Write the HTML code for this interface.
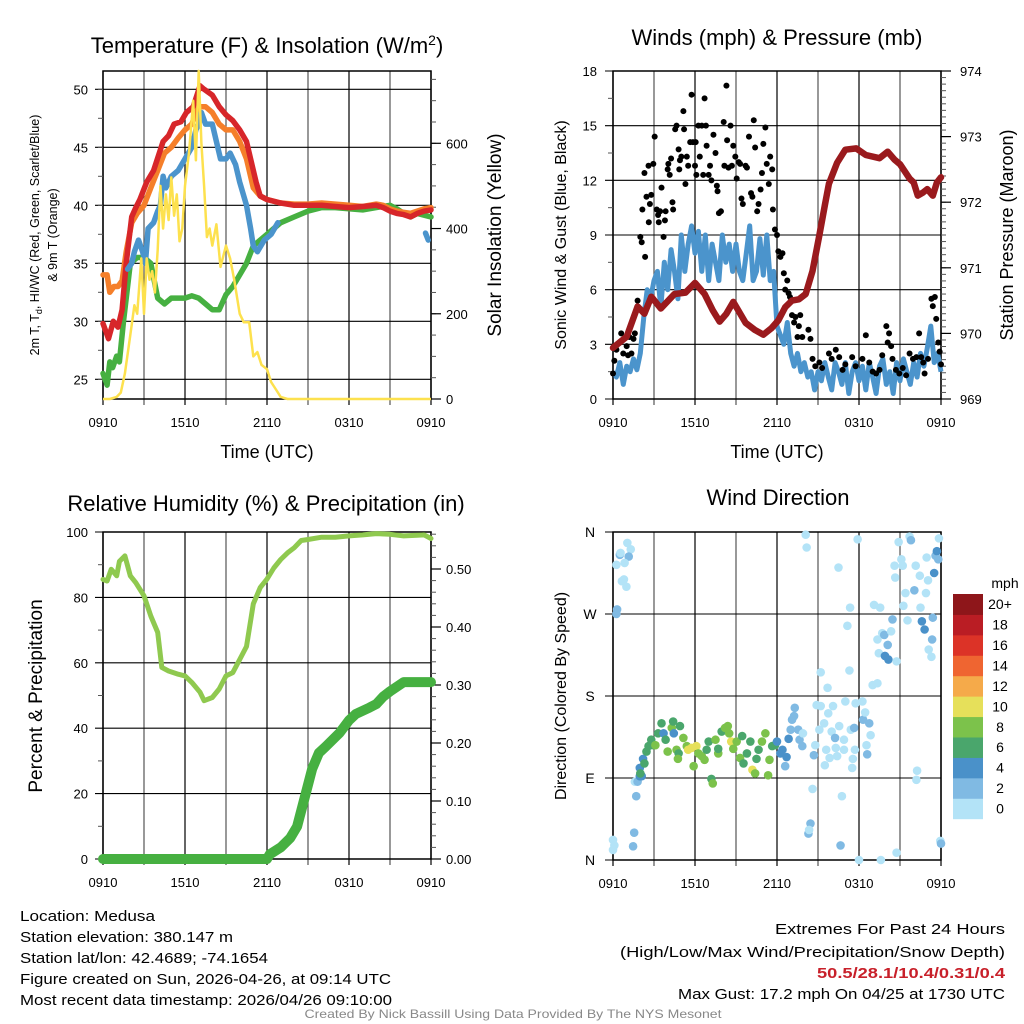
<!DOCTYPE html>
<html><head><meta charset="utf-8"><style>
html,body{margin:0;padding:0;background:#fff;}
svg{display:block;font-family:"Liberation Sans",sans-serif;}
</style></head><body>
<svg id="fig" width="1024" height="1024" viewBox="0 0 1024 1024" xmlns="http://www.w3.org/2000/svg"></svg>
<script>
// ---------- DATA ----------
const xTickLabels = ["0910","1510","2110","0310","0910"];
const tempTicks = [25,30,35,40,45,50];
const solarTicks = [0,200,400,600];
const windTicks = [0,3,6,9,12,15,18];
const presTicks = [969,970,971,972,973,974];
const rhTicks = [0,20,40,60,80,100];
const precipTicks = ["0.00","0.10","0.20","0.30","0.40","0.50"];
const dirTickLabels = ["N","E","S","W","N"];
const speedBins = ["0","2","4","6","8","10","12","14","16","18","20+"];
const speedColors = ["#b3e3f7","#80bae3","#4a91c9","#4aa66c","#7cc24b","#e6e05a","#f5aa4a","#ef6531","#dc3327","#ba1d24","#8e161a"];

const redHours = [0,0.4,0.75,1.1,1.4,1.7,2.1,2.4,2.7,3.2,3.7,4.4,4.8,5.2,5.7,6.1,6.6,7.1,7.4,8,8.5,9,9.5,10,10.5,10.8,11.2,11.5,12,13,14,15,16,17,18,19,20,20.5,21,21.5,22,22.5,23,23.5,24];
const redVals  = [29.8,28.5,30,29.5,31,35,39,39.8,40.5,42,43,45.5,46,47,47.2,48,48.5,50.3,50,49.5,48.5,47.8,47.3,46.5,45.5,44,42,40.8,40.5,40.2,40,40,40,39.9,39.8,39.9,40,39.8,39.5,39.3,39.2,39.0,39.3,39.5,39.6];
const orangeHours = [0,0.3,0.5,0.8,1.1,1.4,1.7,2.1,2.5,3,3.5,4,4.5,5,5.5,6,6.5,7,7.5,8,8.5,9,9.5,10,10.5,11,11.5,12,13,14,15,16,17,18,19,20,20.5,21,21.5,22,22.5,23,23.5,24];
const orangeVals  = [34,34,32.5,33,33,33.5,36,38.5,39.3,40,41.5,43,44.5,45,45.8,46.5,47,48.5,48.5,48,47,46.5,46.5,45.5,44,41.5,40.8,40.5,40.2,40.1,40.1,40.2,40.1,40,39.9,40.1,40,39.7,39.5,39.4,39.3,39.5,39.7,39.8];
const blueHours = [1.8,2.1,2.3,2.6,2.9,3.1,3.3,3.7,4,4.2,4.4,4.6,5,5.5,6,6.5,6.8,7,7.2,7.5,8,8.3,8.6,9,9.3,9.7,10,10.5,10.8,11,11.3,11.8,12.3,12.8];
const blueVals  = [34.5,35,36,37,36,35,38,38.5,39.5,40,42.5,41.5,42.5,43,44,45,46.5,47,48,47,47,45.5,44,44,44.5,43.5,42,40,38,36.5,36,37,37.5,38.5];
const blueLateHours = [23.6,23.7,23.8];
const blueLateVals = [37.6,37.3,37];
const greenHours = [0,0.3,0.5,0.7,1,1.2,1.5,1.8,2,2.5,3,3.5,4,4.5,5,5.5,6,6.5,7,7.5,8,8.5,9,9.5,10,10.5,11,11.5,12,12.5,13,14,15,16,17,18,19,20,21,21.5,22,22.5,23,24];
const greenVals  = [25.5,24.5,26.5,26,27,26.5,30,33,35,35.5,35.5,35,32,31.5,32,32,32,32.2,32,31.5,31,31,32.3,33,34,35,36.5,37,37.5,38,38.5,39,39.5,39.8,39.8,39.7,39.6,39.8,40,39.7,39.3,39,39.3,39];
const solarHours = [0,0.5,1,1.3,1.6,2,2.3,2.5,2.8,3,3.2,3.4,3.6,3.8,4,4.2,4.4,4.6,4.8,5,5.2,5.4,5.6,5.8,6,6.3,6.6,6.8,7,7.2,7.4,7.6,7.8,8,8.3,8.6,9,9.3,9.6,10,10.3,10.7,11,11.3,11.6,12,12.3,12.7,13,13.5,24];
const solarVals  = [0,0,5,15,60,150,220,200,330,200,330,280,300,250,350,500,400,480,420,520,430,480,370,400,500,580,700,560,770,600,500,380,400,360,410,310,360,330,280,200,180,180,100,110,80,70,40,20,5,0,0];

const presHours = [0,1,1.8,2.3,2.8,3.5,4.5,5.3,6,6.7,7.3,7.8,8.3,8.8,9.7,10.4,11,11.6,12.1,12.6,13.1,13.6,14.1,14.6,15.1,15.5,15.8,16.4,17,17.8,18.5,19.5,20.1,20.6,21,21.7,22,22.3,22.7,23,23.4,23.7,24];
const presVals  = [969.78,969.95,970.41,970.3,970.56,970.38,970.6,970.62,970.77,970.6,970.35,970.18,970.3,970.48,970.16,970.05,969.98,970.08,970.2,970.4,970.5,970.52,970.6,970.95,971.5,971.95,972.28,972.6,972.8,972.82,972.72,972.67,972.77,972.65,972.58,972.36,972.3,972.1,972.15,972.2,972.1,972.3,972.38];
const sonicVals = [1.5,1.2,2.0,0.8,1.8,1.5,2.2,1.6,2.5,4.5,6.0,5.5,
 6.5,7.0,5.0,7.5, 6.0,8.2,7.0,5.5, 9.0,7.0,8.5,9.5, 8.0,9.2,7.0,9.0,
 6.5,8.5,7.5,6.5, 9.0,7.5,8.5,7.0, 8.5,7.0,6.5,8.0, 9.5,6.5,7.0,8.8,
 6.8,9.0,6.5,7.0, 4.0,3.5,3.0,4.2, 2.5,1.8,2.5,1.5, 2.0,1.2,1.5,0.5,
 1.5,1.0,2.0,1.2, 0.5,2.0,1.5,0.8, 2.0,0.3,1.5,2.0, 1.0,1.8,0.5,2.0,
 1.2,0.3,1.8,2.2, 0.8,1.5,0.3,2.0, 1.0,2.2,1.5,0.8, 2.0,1.2,2.5,1.8,
 2.8,4.0,2.0,2.5, 1.5];
const gustHours = [0,0.1,0.25,0.5,0.6,0.75,1,1.1,1.2,1.35,1.5,1.6,1.8,2,2.1,2.15,2.3,2.35,2.45,2.6,2.62,2.7,2.8,2.95,3.05,3.2,3.3,3.35,3.45,3.55,3.7,3.8,3.85,4,4.05,4.15,4.25,4.35,4.4,4.55,4.65,4.8,4.85,4.9,5,5.15,5.2,5.3,5.4,5.5,5.65,5.75,5.85,6,6.05,6.1,6.25,6.35,6.5,6.6,6.7,6.8,6.85,7,7.1,7.2,7.35,7.5,7.6,7.65,7.75,7.9,8.1,8.15,8.3,8.35,8.45,8.6,8.7,8.8,8.95,9.05,9.2,9.3,9.4,9.5,9.7,9.8,9.95,10.1,10.2,10.3,10.4,10.55,10.65,10.8,10.9,11,11.15,11.25,11.4,11.5,11.65,11.7,11.85,12,12.1,12.25,12.4,12.5,12.6,12.75,12.85,12.95,13.1,13.25,13.35,13.5,13.6,13.7,13.85,14.3,14.45,14.6,14.8,15.1,15.3,15.8,16,16.3,16.55,16.8,17,17.5,17.75,18.25,18.5,18.75,19,19.25,19.5,19.7,20,20.1,20.2,20.35,20.45,20.7,20.95,21.2,21.45,21.7,21.95,22.2,22.4,22.55,22.7,22.8,23.05,23.3,23.4,23.55,23.65,23.8,23.9,24];
const gustVals  = [1.4,2.1,2.7,3.1,3.6,2.5,2.9,2.4,3.4,2.5,3.3,3.6,5.4,8.9,8.6,10.4,12.4,7.8,11.1,12.8,9.7,10.7,11.2,12.9,14.4,10.4,10.1,9.7,10.3,11.6,8.9,9.8,10.3,12.6,12.9,12.3,13.2,10.8,10.4,14.8,15.0,13.7,12.6,13.1,13.3,15.8,14.8,11.8,13.3,12.8,14.1,16.7,14.1,12.8,14.1,12.3,15,13.3,15,12.3,16.5,15,13.9,12.3,12.8,12.0,14.5,13.5,11.7,11.4,10.2,10.3,15.2,12.8,17.2,14.2,12.7,15,12.8,13.9,13.3,12.1,13,12.9,11,10.7,12.8,12.7,14.4,11.3,11.1,15.3,13.8,10.3,10.7,11.5,12.4,14,14.9,12.9,11.8,13.3,12.6,10.4,9.3,9,8.1,7.8,8,6.9,6,6.5,5.8,5.6,4.6,4.2,4.5,3.4,4,4.6,3.4,3.8,3.3,2.2,1.8,2,1.7,2.5,2.2,2.7,2.3,1.6,1.9,2.3,1.8,2.2,3.5,2,1.5,1.4,1.6,2.4,4,3.1,3.6,2.9,2.2,1.6,1.4,1.7,1.3,2.5,2.2,2.3,3.6,2.3,2,1.4,2.2,5.5,5.1,5.6,4.4,3.1,2.6,1.9];

const rhHours = [0,0.3,0.6,1,1.2,1.6,2,2.4,3,3.5,4,4.3,4.8,5.5,6,6.5,7.1,7.4,8,8.5,9,9.5,10,10.5,11,11.5,12,12.5,13,13.5,14,14.5,15,16,17,18,19,20,21,22,23,23.5,24];
const rhVals  = [85.5,85,88.6,86.6,91,92.7,86.6,84.5,80.5,74.3,69.3,58.6,57.5,56.5,56,54,51,48.4,49.4,52,56,57,61,65,78,83,85.6,89,91.6,93.6,95.2,97.4,97.7,98.4,98.4,98.8,99.1,99.5,99.3,98.8,99,99.1,98];
const precipHours = [0,12,12.2,13,13.7,14.2,14.8,15.3,15.8,16.3,17.3,18,18.5,19.5,20,20.5,21,22,24];
const precipVals  = [0,0,0.008,0.02,0.036,0.056,0.11,0.155,0.183,0.194,0.217,0.239,0.25,0.261,0.267,0.28,0.289,0.305,0.305];

const dirHours = [0,0.1,0,0.25,0.5,0.55,1.05,1.3,1.15,0.85,0.65,0.8,0.98,0.3,0.25,1.47,1.55,1.7,1.6,1.8,1.96,1.96,2.1,2.0,2.2,2.3,2.45,2.6,2.8,2.95,3.1,3.3,3.55,3.7,3.85,4.0,4.3,4.4,4.45,4.65,4.8,4.75,4.9,5.15,5.4,5.5,5.75,6.1,5.9,6.25,6.5,6.7,6.85,7.0,7.2,7.3,7.5,7.7,7.7,7.95,8.2,8.4,8.5,8.65,8.8,9.05,9.3,9.45,9.55,9.8,10.05,10.2,10.4,10.5,10.65,10.9,11.15,11.35,11.45,11.65,11.85,12,12.25,12.4,12.6,12.7,12.85,13,13.1,13.25,13.3,13.55,13.65,13.9,13.85,14.1,14.17,14.45,14.3,14.35,14.6,14.7,14.8,14.9,15.2,15.1,15.2,15.45,15.5,15.6,15.7,15.75,15.85,16,16.1,16.25,16.3,16.4,16.5,16.55,16.65,16.75,16.9,16.9,17,17.15,17.3,17.35,17.4,17.5,17.55,17.65,17.7,17.75,17.9,18,18.25,18.3,18.45,18.55,18.6,18.75,18.85,19,19.1,19.35,19.35,19.45,19.55,19.6,19.7,19.85,19.9,20.1,20.15,20.35,20.45,20.6,20.65,20.75,20.75,20.9,21.1,21.2,21.25,21.4,21.55,21.7,21.8,22.05,22.15,22.25,22.2,22.45,22.5,22.6,22.8,22.9,22.95,23.05,23.1,23.3,23.35,23.4,23.5,23.6,23.7,23.8,23.85,23.95,24];
const dirVals = [22,16,11,324,335,337,348,341,333,326,306,308,300,275,270,15,30,70,86,86,92,101,92,95,111,106,119,125,132,126,126,139,150,139,132,119,145,152,139,121,117,111,147,134,125,121,123,125,103,117,114,110,121,130,89,84,132,117,122,141,145,147,139,130,122,130,112,136,106,117,130,99,95,111,121,130,139,93,110,125,126,130,117,121,103,113,133,143,154,158,167,143,132,139,125,357,343,40,29,33,78,115,126,170,169,143,206,150,104,121,189,161,112,141,169,134,123,114,321,147,16,70,132,121,174,257,208,277,143,101,111,145,121,172,352,0,174,154,162,126,116,150,137,192,280,194,242,227,277,0,249,247,224,236,220,251,264,323,310,218,8,349,330,323,279,293,263,355,351,296,323,98,88,312,277,262,253,293,332,307,231,223,242,266,315,334,339,330,353,21,18];
const dirSpeeds = [0,0,0,1,3,0,0,0,3,0,0,0,0,3,3,3,3,3,0,3,5,5,5,7,5,7,7,7,7,7,9,7,7,5,7,9,9,7,5,9,7,9,7,9,9,10,10,10,9,9,9,9,7,7,7,9,9,9,7,7,9,9,9,10,9,9,9,7,7,7,7,10,9,7,7,9,9,9,9,7,7,5,5,5,3,5,5,3,3,3,3,3,3,1,3,1,1,3,3,1,1,3,1,1,1,1,1,1,1,1,1,1,1,1,1,3,1,1,1,1,3,1,1,1,1,1,1,1,1,1,1,3,1,1,1,1,1,3,1,1,3,3,1,1,1,1,1,1,1,1,1,3,5,3,5,1,3,1,1,1,1,1,1,1,1,1,1,1,3,3,1,1,1,1,1,5,5,1,1,1,1,1,3,3,5,3,5,3,1,1,3,1];

// ---------- DRAWING ----------
const svg = document.getElementById('fig');
const NS = 'http://www.w3.org/2000/svg';
function el(tag, attrs, parent, txt){
  const e = document.createElementNS(NS, tag);
  for (const k in attrs) e.setAttribute(k, attrs[k]);
  if (txt !== undefined) e.textContent = txt;
  (parent || svg).appendChild(e);
  return e;
}
function lin(d0,d1,r0,r1){ return v => r0 + (v-d0)*(r1-r0)/(d1-d0); }
function pathFrom(xs, ys, sx, sy){
  return xs.map((h,i)=>(i?'L':'M')+sx(h).toFixed(1)+','+sy(ys[i]).toFixed(1)).join('');
}

function frame(L,T,R,B,name){
  const g = el('g',{});
  
  
  const sx = lin(0,24,L,R);
  for (let h=0; h<=24; h+=3){
    const ln = el('line',{x1:sx(h),x2:sx(h),y1:T,y2:B+6,stroke:(h%6===0)?'#000':'#555','stroke-width':1.2},g);
    
    
  }
  for (let i=0;i<5;i++){
    const t = el('text',{x:sx(i*6),y:B+28,'font-size':13,'text-anchor':'middle'},g,xTickLabels[i]);
    
    
  }
  el('rect',{x:L,y:T,width:R-L,height:B-T,fill:'none',stroke:'#000','stroke-width':1.5},g);
  return g;
}
function hgrid(g,L,R,ys,sy,outer){
  ys.forEach(v=>{
    const ln = el('line',{x1:L-(outer||8),x2:R,y1:sy(v),y2:sy(v),stroke:'#000','stroke-width':1.1},g);
    
    
  });
}
function label(txt,x,y,size,anchor,rot,name,g){
  const a = {x:x,y:y,'font-size':size,'text-anchor':anchor||'middle'};
  if (rot) a.transform = 'rotate('+rot+' '+x+' '+y+')';
  const t = el('text',a,g||svg,txt);
  
  
  return t;
}
function rightTicks(g,R,vals,sy,minorStep,lo,hi){
  for (let v=lo; v<=hi+1e-9; v+=minorStep){
    el('line',{x1:R,x2:R+5,y1:sy(v),y2:sy(v),stroke:'#555','stroke-width':1},g);
  }
  vals.forEach(v=>el('line',{x1:R,x2:R+10,y1:sy(v),y2:sy(v),stroke:'#000','stroke-width':1.2},g));
}

// ---- Panel 1: Temperature ----
(function(){
  const L=103,T=71,R=431,B=399;
  const g = frame(L,T,R,B,'temperature-panel');
  const sx = lin(0,24,L,R), sy = lin(25,50,379.3,89.3), ss = lin(0,600,399,143.3);
  hgrid(g,L,R,tempTicks,sy);
  for (let v=22.5; v<=52.5; v+=2.5) if (sy(v)>T && sy(v)<B) el('line',{x1:L-5,x2:L,y1:sy(v),y2:sy(v),stroke:'#555'},g);
  rightTicks(g,R,solarTicks,ss,50,0,750);
  tempTicks.forEach(v=>label(String(v),88,sy(v)+5,13,'end',0,'y-tick-label',g));
  solarTicks.forEach(v=>label(String(v),446,ss(v)+5,13,'start',0,'y2-tick-label',g));
  const defs = [[greenHours,greenVals,'#46b041','green-dewpoint-line',5.5],[orangeHours,orangeVals,'#f57f2a','orange-9m-temp-line',5.5],[redHours,redVals,'#d7262a','red-2m-temp-line',5.5],[blueHours,blueVals,'#4b94cc','blue-windchill-line',5.5],[blueLateHours,blueLateVals,'#4b94cc','blue-windchill-late',5.5]];
  defs.forEach(d=>{
    const p = el('path',{d:pathFrom(d[0],d[1],sx,sy),fill:'none',stroke:d[2],'stroke-width':d[4],'stroke-linejoin':'round','stroke-linecap':'round'},g);
    
    
  });
  const ps = el('path',{d:pathFrom(solarHours,solarVals,sx,ss),fill:'none',stroke:'#fde14e','stroke-width':2.5,'stroke-linejoin':'round'},g);
  
  
  const t = label('',267,53,22,'middle',0,'chart-title',g);
  t.innerHTML = 'Temperature (F) &amp; Insolation (W/m<tspan dy="-8" font-size="14">2</tspan><tspan dy="8">)</tspan>';
  label('Time (UTC)',267,458,18,'middle',0,'x-axis-title',g);
  label('Solar Insolation (Yellow)',501,235,19,'middle',-90,'y2-axis-title',g);
  const a = label('',39,235,12.5,'middle',-90,'y-axis-title',g);
  a.innerHTML = '2m T, T<tspan dy="3" font-size="9">d</tspan><tspan dy="-3">, HI/WC (Red, Green, Scarlet/Blue)</tspan>';
  label('& 9m T (Orange)',57,235,12.5,'middle',-90,'y-axis-title-line2',g);
})();

// ---- Panel 2: Winds ----
(function(){
  const L=613,T=71,R=941,B=399;
  const g = frame(L,T,R,B,'winds-panel');
  const sx = lin(0,24,L,R), sy = lin(0,18,B,T), sp = lin(969,974,B,T);
  hgrid(g,L,R,windTicks,sy);
  for (let v=1.5; v<18; v+=3) el('line',{x1:L-5,x2:L,y1:sy(v),y2:sy(v),stroke:'#555'},g);
  rightTicks(g,R,presTicks,sp,0.1,969,974);
  windTicks.forEach(v=>label(String(v),597,sy(v)+5,13,'end',0,'y-tick-label',g));
  presTicks.forEach(v=>label(String(v),960,sp(v)+5,13,'start',0,'y2-tick-label',g));
  const sonicHours = sonicVals.map((v,i)=>i*0.25);
  const pw = el('path',{d:pathFrom(sonicHours,sonicVals,sx,sy),fill:'none',stroke:'#4b94cc','stroke-width':5,'stroke-linejoin':'round'},g);
  
  
  gustHours.forEach((h,i)=>{
    const c = el('circle',{cx:sx(h),cy:sy(gustVals[i]),r:3,fill:'#000'},g);
    
    
  });
  const pp = el('path',{d:pathFrom(presHours,presVals,sx,sp),fill:'none',stroke:'#9a1a1d','stroke-width':6.5,'stroke-linejoin':'round','stroke-linecap':'round'},g);
  
  
  label('Winds (mph) & Pressure (mb)',777,45,22,'middle',0,'chart-title',g);
  label('Time (UTC)',777,458,18,'middle',0,'x-axis-title',g);
  label('Sonic Wind & Gust (Blue, Black)',566,235,16,'middle',-90,'y-axis-title',g);
  label('Station Pressure (Maroon)',1013,235,18,'middle',-90,'y2-axis-title',g);
})();

// ---- Panel 3: RH & Precip ----
(function(){
  const L=103,T=532,R=431,B=859;
  const g = frame(L,T,R,B,'humidity-panel');
  const sx = lin(0,24,L,R), sy = lin(0,100,B,T), sr = lin(0,0.1,B,B-58);
  hgrid(g,L,R,rhTicks,sy);
  for (let v=10; v<100; v+=20) el('line',{x1:L-5,x2:L,y1:sy(v),y2:sy(v),stroke:'#555'},g);
  const pv = precipTicks.map(Number);
  rightTicks(g,R,pv,sr,0.02,0,0.56);
  rhTicks.forEach(v=>label(String(v),88,sy(v)+5,13,'end',0,'y-tick-label',g));
  precipTicks.forEach((s,i)=>label(s,446,sr(pv[i])+5,13,'start',0,'y2-tick-label',g));
  const pr = el('path',{d:pathFrom(rhHours,rhVals,sx,sy),fill:'none',stroke:'#8fc94f','stroke-width':5,'stroke-linejoin':'round','stroke-linecap':'round'},g);
  
  
  const pc = el('path',{d:pathFrom(precipHours,precipVals,sx,sr),fill:'none',stroke:'#46b041','stroke-width':10,'stroke-linejoin':'round','stroke-linecap':'round'},g);
  
  
  label('Relative Humidity (%) & Precipitation (in)',266,511,22,'middle',0,'chart-title',g);
  label('Percent & Precipitation',42,696,19,'middle',-90,'y-axis-title',g);
})();

// ---- Panel 4: Wind direction ----
(function(){
  const L=613,T=532,R=941,B=860;
  const g = frame(L,T,R,B,'wind-direction-panel');
  const sx = lin(0,24,L,R), sy = lin(0,360,B,T);
  hgrid(g,L,R,[0,90,180,270,360],sy);
  [0,90,180,270,360].forEach((v,i)=>label(dirTickLabels[i],590,sy(v)+5,14,'middle',0,'y-tick-label',g));
  dirHours.forEach((h,i)=>{
    const c = el('circle',{cx:sx(h),cy:sy(dirVals[i]),r:4.3,fill:speedColors[Math.min(10,Math.floor(dirSpeeds[i]/2))]},g);
    
    
  });
  label('Wind Direction',778,505,22,'middle',0,'chart-title',g);
  label('Direction (Colored By Speed)',566,696,16,'middle',-90,'y-axis-title',g);
  const cb = el('g',{},g);
  
  
  const top=594, h=(818.7-594)/11;
  for (let i=0;i<11;i++){
    const y = top + (10-i)*h;
    const r = el('rect',{x:953,y:y,width:30,height:h+0.5,fill:speedColors[i]},cb);
    
    
    label(speedBins[i],1000,y+h/2+5,14,'middle',0,'colorbar-label',cb);
  }
  label('mph',1005,588,14,'middle',0,'colorbar-title',cb);
})();

// ---- Footer text ----
const leftLines = ["Location: Medusa","Station elevation: 380.147 m","Station lat/lon: 42.4689; -74.1654","Figure created on Sun, 2026-04-26, at 09:14 UTC","Most recent data timestamp: 2026/04/26 09:10:00"];
const leftLens = [135,213,248,371,372];
leftLines.forEach((s,i)=>{
  const t = label(s,20,921+i*21,15,'start',0,'station-info-line');
  t.setAttribute('textLength', leftLens[i]);
  t.setAttribute('lengthAdjust','spacingAndGlyphs');
});
const rightLines = [["Extremes For Past 24 Hours",934,'#000',230],["(High/Low/Max Wind/Precipitation/Snow Depth)",957,'#000',385],["50.5/28.1/10.4/0.31/0.4",978,'#c8202a',188],["Max Gust: 17.2 mph On 04/25 at 1730 UTC",999,'#000',327]];
rightLines.forEach(r=>{
  const t = label(r[0],1005,r[1],15,'end',0,'extremes-line');
  t.setAttribute('fill', r[2]);
  t.setAttribute('textLength', r[3]);
  t.setAttribute('lengthAdjust','spacingAndGlyphs');
  if (r[2] !== '#000') t.setAttribute('font-weight','bold');
});
const cr = label('Created By Nick Bassill Using Data Provided By The NYS Mesonet',513,1018,12,'middle',0,'credit-line');
cr.setAttribute('fill','#888');
cr.setAttribute('textLength',417);
cr.setAttribute('lengthAdjust','spacingAndGlyphs');
</script>
</body></html>
